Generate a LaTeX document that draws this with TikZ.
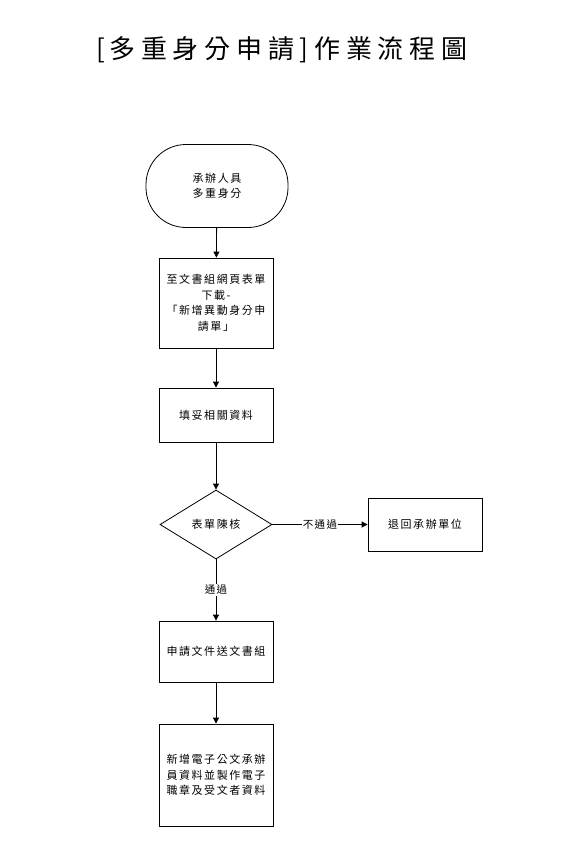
\documentclass[tikz,border=0pt]{standalone}
\usepackage{fontspec}
\setmainfont{Noto Sans CJK TC}[LetterSpace=14]
\newfontfamily\titlefont{Noto Sans CJK TC}[LetterSpace=22]
\usetikzlibrary{shapes.geometric,arrows.meta}
\tikzset{
  px/.style={x=1pt,y=-1pt},
  box/.style={draw,line width=0.8pt,minimum width=114pt,align=center,font=\fontsize{11}{15.5}\selectfont,inner sep=0pt},
  arr/.style={-{Triangle[width=6pt,length=6pt]},line width=0.8pt},
  lbl/.style={fill=white,inner sep=1pt,font=\fontsize{10.5}{14}\selectfont}
}
\begin{document}
\begin{tikzpicture}[px]
\useasboundingbox (0,0) rectangle (580,851);
\node[font=\titlefont\fontsize{26}{30}\selectfont] (title) at (282,50) {[\hspace{4pt}多重身分申請]作業流程圖};
\node[box,rounded corners=40pt,minimum width=142pt,minimum height=83pt] (start) at (217,186) {承辦人具\\多重身分};
\node[box,minimum height=90pt] (b2) at (216,303) {至文書組網頁表單\\下載-\\「新增異動身分申\\請單」};
\node[box,minimum height=54pt] (b3) at (216,415) {填妥相關資料};
\node[draw,line width=0.8pt,diamond,aspect=1.6,minimum width=112pt,minimum height=69pt,inner sep=0pt,font=\fontsize{11}{15}\selectfont] (d) at (216,524.5) {表單陳核};
\node[box,minimum height=53pt] (rej) at (425,524.5) {退回承辦單位};
\node[box,minimum height=61pt] (b5) at (216,651.5) {申請文件送文書組};
\node[box,minimum height=102pt] (b6) at (216,775) {新增電子公文承辦\\員資料並製作電子\\職章及受文者資料};
\draw[arr] (start) -- (b2);
\draw[arr] (b2) -- (b3);
\draw[arr] (b3) -- (d);
\draw[arr] (d) -- node[lbl] {不通過} (rej);
\draw[arr] (d) -- node[lbl,pos=0.5] {通過} (b5);
\draw[arr] (b5) -- (b6);
\end{tikzpicture}
\end{document}
